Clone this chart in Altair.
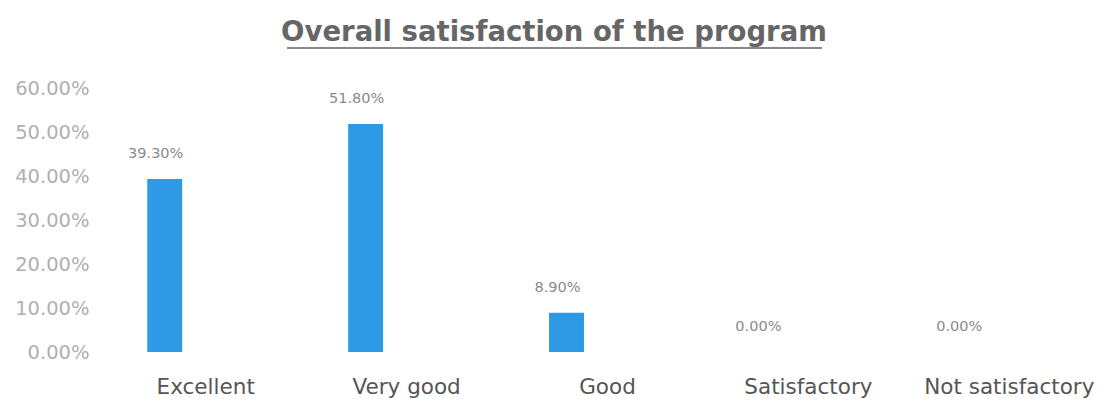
import altair as alt
import pandas as pd

categories = ["Excellent", "Very good", "Good", "Satisfactory", "Not satisfactory"]
values = [0.393, 0.518, 0.089, 0.0, 0.0]
labels = ["39.30%", "51.80%", "8.90%", "0.00%", "0.00%"]
y_ticks = [0, 0.1, 0.2, 0.3, 0.4, 0.5, 0.6]
title_text = "Overall satisfaction of the program"

df = pd.DataFrame({"cat": categories, "val": values, "lab": labels})

FONT = "DejaVu Sans"

x = alt.X("cat:N", sort=categories, title=None,
          scale=alt.Scale(paddingInner=0.826, paddingOuter=0.26),
          axis=alt.Axis(labelAngle=0, labelFontSize=21.5, labelColor="#555555",
                        labelFont=FONT, labelPadding=24, labelOffset=41,
                        labelLimit=400, ticks=False, domain=False))
y = alt.Y("val:Q", title=None,
          scale=alt.Scale(domain=[0, 0.6], nice=False),
          axis=alt.Axis(values=y_ticks, format=".2%", labelFontSize=19.5,
                        labelColor="#b0b0b0", labelFont=FONT, labelPadding=6,
                        ticks=False, domain=False, grid=False))

bars = alt.Chart(df).mark_bar(color="#2e9ae6").encode(x=x, y=y)
text = alt.Chart(df).mark_text(dy=-25, dx=-9, fontSize=14.5, color="#8a8a8a", font=FONT).encode(
    x=alt.X("cat:N", sort=categories), y="val:Q", text="lab:N")
title = alt.Chart(df.head(1)).mark_text(fontSize=27.5, font=FONT, fontWeight="bold",
                                        color="#666666",
                                        align="center", baseline="alphabetic").encode(
    x=alt.value(459), y=alt.value(-47), text=alt.value(title_text))
underline = alt.Chart(df.head(1)).mark_rule(color="#888888", strokeWidth=2).encode(
    x=alt.value(192), x2=alt.value(727), y=alt.value(-40))

chart = alt.layer(bars, text, title, underline).properties(
    width=943, height=264,
    background="white",
    autosize=alt.AutoSizeParams(type="none"),
    padding={"left": 87, "top": 80, "right": 65, "bottom": 53},
).configure_view(stroke=None, strokeWidth=0)

chart.save("out.html", embed_options={"renderer": "svg", "actions": False})
